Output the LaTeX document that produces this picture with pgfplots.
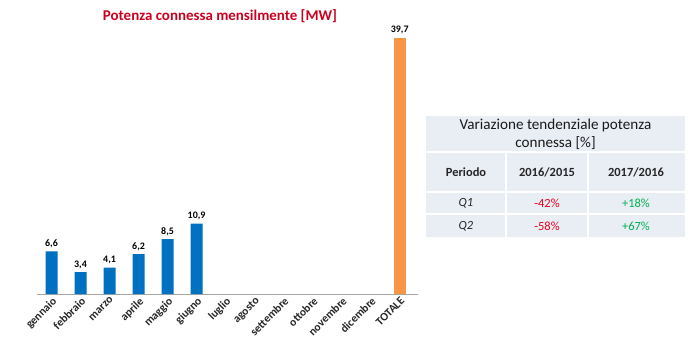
\documentclass[border=0pt]{standalone}
\usepackage{fontspec}
\setmainfont{Carlito}
\usepackage{pgfplots}
\pgfplotsset{compat=1.18}
\definecolor{barblue}{RGB}{0,112,192}
\definecolor{barorange}{RGB}{247,150,70}
\definecolor{titlered}{RGB}{204,0,30}
\definecolor{cellbg}{RGB}{233,237,244}
\definecolor{negred}{RGB}{230,0,30}
\definecolor{posgreen}{RGB}{0,176,80}
\begin{document}
\begin{tikzpicture}[x=1bp,y=1bp]
\useasboundingbox (0,0) rectangle (690,351);
\node[font=\fontsize{15}{17}\selectfont\bfseries, text=titlered] at (220,335) {Potenza connessa mensilmente [MW]};
\begin{axis}[
  at={(37bp,57bp)}, anchor=south west,
  scale only axis, width=381bp, height=280bp,
  xmin=-0.5, xmax=12.63, ymin=0, ymax=43.4,
  axis x line=bottom, axis y line=none,
  x axis line style={draw=gray!70, -},
  xtick={0,...,12},
  xticklabels={gennaio,febbraio,marzo,aprile,maggio,giugno,luglio,agosto,settembre,ottobre,novembre,dicembre,TOTALE},
  major tick length=0pt,
  xticklabel style={rotate=45, anchor=north east, font=\fontsize{11.5}{13}\selectfont\bfseries, text=black!85, inner sep=1.5pt},
  ytick=\empty,
  ybar, bar width=12bp, bar shift=0pt,
  clip=false,
  nodes near coords,
  /pgf/number format/assume math mode=true,
  nodes near coords style={font=\fontsize{10}{12}\selectfont\bfseries, text=black, /pgf/number format/.cd, fixed, fixed zerofill, precision=1, use comma, assume math mode=true},
]
\addplot[fill=barblue, draw=none] coordinates {(0,6.6) (1,3.4) (2,4.1) (3,6.2) (4,8.5) (5,10.9)};
\addplot[fill=barorange, draw=none] coordinates {(12,39.7)};
\end{axis}
% table
\fill[cellbg] (426,351-116) rectangle (685,351-237);
\draw[white, line width=1.5bp] (426,351-152) -- (685,351-152);
\draw[white, line width=1.5bp] (426,351-192) -- (685,351-192);
\draw[white, line width=1.5bp] (426,351-214) -- (685,351-214);
\draw[white, line width=1.5bp] (506,351-152) -- (506,351-237);
\draw[white, line width=1.5bp] (588,351-152) -- (588,351-237);
\node[font=\fontsize{15.2}{17}\selectfont, text=black!90] at (555.5,351-125) {Variazione tendenziale potenza};
\node[font=\fontsize{15.2}{17}\selectfont, text=black!90] at (555.5,351-143) {connessa [\%]};
\node[font=\fontsize{12.5}{15}\selectfont\bfseries, text=black!85] at (466,351-172) {Periodo};
\node[font=\fontsize{12.5}{15}\selectfont\bfseries, text=black!85] at (547,351-172) {2016/2015};
\node[font=\fontsize{12.5}{15}\selectfont\bfseries, text=black!85] at (636,351-172) {2017/2016};
\node[font=\fontsize{12.5}{15}\selectfont\itshape, text=black!85] at (466,351-203) {Q1};
\node[font=\fontsize{12.5}{15}\selectfont\itshape, text=black!85] at (466,351-226) {Q2};
\node[font=\fontsize{12.5}{15}\selectfont, text=negred] at (547,351-203) {-42\%};
\node[font=\fontsize{12.5}{15}\selectfont, text=negred] at (547,351-226) {-58\%};
\node[font=\fontsize{12.5}{15}\selectfont, text=posgreen] at (636,351-203) {+18\%};
\node[font=\fontsize{12.5}{15}\selectfont, text=posgreen] at (636,351-226) {+67\%};
\end{tikzpicture}
\end{document}
